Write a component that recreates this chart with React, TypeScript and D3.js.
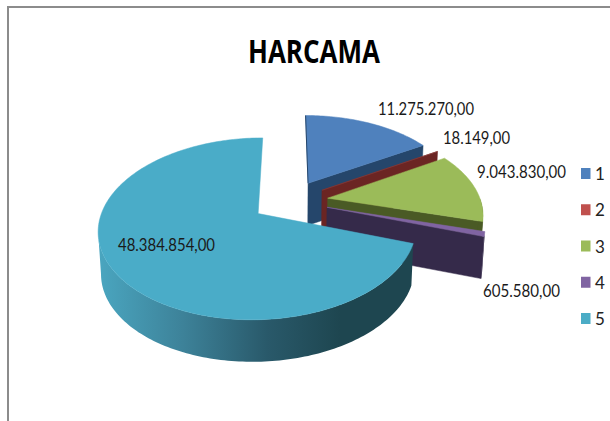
import React from "react";
import * as d3 from "d3";

const categories = ["1", "2", "3", "4", "5"];
const values = [11275270, 18149, 9043830, 605580, 48384854];
const valueLabels = ["11.275.270,00", "18.149,00", "9.043.830,00", "605.580,00", "48.384.854,00"];
const topColors = ["#4f81bd", "#8a3a38", "#9bbb59", "#8064a2", "#4aacc8"];
const wallColors = ["#25466b", "#6b2523", "#4a5a25", "#352a4a", "#1e4650"];
const legendColors = ["#4f81bd", "#c0504d", "#9bbb59", "#8064a2", "#4bacc6"];
const labelBoxes = [
  { x: 378, y: 109, w: 96 },
  { x: 443, y: 138, w: 67 },
  { x: 477, y: 172, w: 89 },
  { x: 483, y: 291, w: 77 },
  { x: 118, y: 245, w: 97 },
];

const CX = 290, CY = 201, RX = 153, RY = 84.2, PERSP = 0.164, EXPLODE = 0.25, DEPTH = 42, NARROW = 0.985;
type P = [number, number];

const project = (u: number, v: number, low = false): P => {
  const s = 1 / (1 - PERSP * v);
  return [CX + RX * u * s * (low ? NARROW : 1), CY + RY * v * s + (low ? DEPTH : 0)];
};
const pathOf = d3.line<P>().x((d) => d[0]).y((d) => d[1]);
const arcPts = (a0: number, a1: number, ox: number, oy: number, low = false): P[] => {
  const n = Math.max(2, Math.ceil((a1 - a0) / 0.02));
  return d3.range(n + 1).map((i) => {
    const a = a0 + ((a1 - a0) * i) / n;
    return project(ox + Math.sin(a), oy - Math.cos(a), low);
  });
};
const arcs = d3.pie<number>().sort(null).startAngle(0).endAngle(2 * Math.PI)(values);

export default function App() {
  const legendY = d3.scalePoint<string>().domain(categories).range([174, 319]);
  return (
    <svg width={610} height={421} style={{ position: "fixed", left: 0, top: 0, background: "#fff" }}>
      <defs>
        <linearGradient id="wall5" gradientUnits="userSpaceOnUse" x1={98} x2={340} y1={0} y2={0}>
          <stop offset="0" stopColor="#4aa6c0" />
          <stop offset="0.35" stopColor="#3d8299" />
          <stop offset="0.7" stopColor="#29596a" />
          <stop offset="1" stopColor="#1e4650" />
        </linearGradient>
      </defs>
      <path d="M8,421V7H610" fill="none" stroke="#8c8c8c" strokeWidth={2} />
      <text x={314} y={63} fontFamily="Open Sans" fontWeight={700} fontSize={33} textAnchor="middle" textLength={132} lengthAdjust="spacingAndGlyphs" fill="#000">HARCAMA</text>
      {arcs.map((d, i) => {
        const mid = (d.startAngle + d.endAngle) / 2;
        const ox = EXPLODE * Math.sin(mid), oy = -EXPLODE * Math.cos(mid);
        const top = arcPts(d.startAngle, d.endAngle, ox, oy);
        const apexT = project(ox, oy);
        const apexB = project(ox, oy, true);
        const endT = top[top.length - 1];
        const endB = project(ox + Math.sin(d.endAngle), oy - Math.cos(d.endAngle), true);
        // the outer wall runs from the front-right to the leftmost point of the rim, where it meets the silhouette
        const leftmost = d.startAngle + ((d.endAngle - d.startAngle) * d3.leastIndex(top, (a, b) => a[0] - b[0])!) / (top.length - 1);
        const w0 = Math.max(d.startAngle, Math.PI / 2), w1 = i === 4 ? leftmost : d.endAngle;
        const wall = w1 > w0 ? [...arcPts(w0, w1, ox, oy), ...arcPts(w0, w1, ox, oy, true).reverse()] : null;
        return (
          <g key={categories[i]}>
            {i !== 4 && <path d={pathOf([apexT, endT, endB, apexB])! + "Z"} fill={wallColors[i]} stroke={wallColors[i]} strokeWidth={0.5} />}
            {wall && <path d={pathOf(wall)! + "Z"} fill={i === 4 ? "url(#wall5)" : wallColors[i]} />}
            <path d={pathOf([apexT, ...top])! + "Z"} fill={topColors[i]} stroke={topColors[i]} strokeWidth={0.5} />
            {i === 0 && <path d={pathOf([apexT, top[0]])!} fill="none" stroke={wallColors[0]} strokeWidth={1} />}
          </g>
        );
      })}
      {valueLabels.map((t, i) => (
        <text key={t} x={labelBoxes[i].x} y={labelBoxes[i].y + 6} fontFamily="Lato" fontSize={17} textLength={labelBoxes[i].w} lengthAdjust="spacingAndGlyphs" fill="#1a1a1a">{t}</text>
      ))}
      {categories.map((c, i) => (
        <g key={c}>
          <rect x={581} y={legendY(c)! - 6} width={9.5} height={11} fill={legendColors[i]} />
          <text x={595} y={legendY(c)! + 6} fontFamily="Lato" fontSize={17} fill="#222">{c}</text>
        </g>
      ))}
    </svg>
  );
}
